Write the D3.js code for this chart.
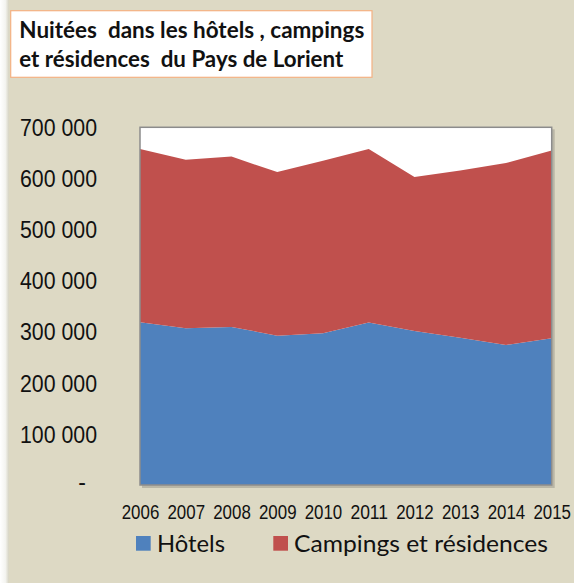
<!DOCTYPE html>
<html lang="fr">
<head>
<meta charset="UTF-8">
<title>Nuitées Pays de Lorient</title>
<script src="https://d3js.org/d3.v7.min.js"></script>
<style>
  body { margin: 0; background: #fff; }
  svg { display: block; }
  .ytick text { font-family: "Liberation Sans", Arial, sans-serif; font-size: 23px; fill: #111; }
  .xtick text { font-family: "Liberation Sans", Arial, sans-serif; font-size: 19.5px; fill: #111; }
  .legend text { font-family: Lato, "Open Sans", sans-serif; font-size: 24px; fill: #111; }
  .title text { font-family: Lato, "Open Sans", sans-serif; font-size: 22px; font-weight: bold; fill: #111; }
</style>
</head>
<body>
<div id="container"></div>
<script>
// data
const years = ["2006","2007","2008","2009","2010","2011","2012","2013","2014","2015"];
const hotels =   [318600, 306800, 309400, 292300, 297000, 317800, 301500, 288400, 274100, 287200];
const campings = [338700, 329600, 333400, 320000, 337400, 339500, 301000, 327000, 355800, 367400];
const yTicks = [0, 100000, 200000, 300000, 400000, 500000, 600000, 700000];
const seriesNames = ["Hôtels", "Campings et résidences"];
const colors = ["#4f81bd", "#c0504d"];
const titleLines = ["Nuitées  dans les hôtels , campings", "et résidences  du Pays de Lorient"];

const width = 574, height = 583;
const plot = { left: 140, right: 551.7, top: 127.3, bottom: 485 };

const svg = d3.select("#container").append("svg")
  .attr("width", width).attr("height", height);

// background with pale left edge
const defs = svg.append("defs");
const grad = defs.append("linearGradient").attr("id", "edge");
grad.append("stop").attr("offset", "0").attr("stop-color", "#ffffff");
grad.append("stop").attr("offset", "0.6").attr("stop-color", "#f4f4f0");
grad.append("stop").attr("offset", "1").attr("stop-color", "#d6d3c2");
svg.append("rect").attr("width", width).attr("height", height).attr("fill", "#ddd9c4");
svg.append("rect").attr("width", 9).attr("height", height).attr("fill", "url(#edge)");

const table = years.map((y, i) => ({ year: y, hotels: hotels[i], campings: campings[i] }));
const stacked = d3.stack().keys(["hotels", "campings"])(table);

const x = d3.scalePoint().domain(years).range([plot.left, plot.right]);
const y = d3.scaleLinear().domain([0, 700000]).range([plot.bottom, plot.top]);

// plot area shadow + background
svg.append("rect")
  .attr("x", plot.left + 2).attr("y", plot.top + 2)
  .attr("width", plot.right - plot.left + 1).attr("height", plot.bottom - plot.top + 1)
  .attr("fill", "#b9b6a6");
svg.append("rect")
  .attr("x", plot.left).attr("y", plot.top)
  .attr("width", plot.right - plot.left).attr("height", plot.bottom - plot.top)
  .attr("fill", "#fff");

const area = d3.area()
  .x(d => x(d.data.year))
  .y0(d => y(d[0]))
  .y1(d => y(d[1]));

svg.append("g").selectAll("path")
  .data(stacked)
  .enter().append("path")
  .attr("d", area)
  .attr("fill", (d, i) => colors[i]);

svg.append("rect")
  .attr("x", plot.left).attr("y", plot.top)
  .attr("width", plot.right - plot.left).attr("height", plot.bottom - plot.top)
  .attr("fill", "none").attr("stroke", "#8c8c8c").attr("stroke-width", 1.5);

// y axis
const fmt = v => v === 0 ? "-" : d3.format(",")(v).replace(/,/g, " ");
const yAxis = d3.axisLeft(y).tickValues(yTicks).tickFormat(fmt).tickSize(0).tickPadding(0);
const gy = svg.append("g").attr("class", "ytick")
  .attr("transform", `translate(97,0)`)
  .call(yAxis);
gy.select(".domain").remove();
gy.selectAll("text").attr("dy", "0.36em").attr("font-family", null).attr("font-size", null)
  .attr("textLength", d => d === 0 ? null : 77)
  .attr("lengthAdjust", "spacingAndGlyphs");
gy.selectAll(".tick").filter(d => d === 0).select("text").attr("dx", "-11px").attr("dy", "0.2em");

// x axis
const xAxis = d3.axisBottom(x).tickSize(0).tickPadding(0);
const gx = svg.append("g").attr("class", "xtick")
  .attr("transform", `translate(0,${plot.bottom})`)
  .call(xAxis);
gx.select(".domain").remove();
gx.selectAll("text").attr("y", 34).attr("dy", null).attr("font-family", null).attr("font-size", null)
  .attr("textLength", 37.6).attr("lengthAdjust", "spacingAndGlyphs");

// legend
const legendX = [136, 273.3];
const legendW = [68, 254];
const legend = svg.append("g").attr("class", "legend")
  .selectAll("g").data(seriesNames).enter().append("g")
  .attr("transform", (d, i) => `translate(${legendX[i]},536)`);
legend.append("rect").attr("width", 14.7).attr("height", 14.7).attr("fill", (d, i) => colors[i]);
legend.append("text").attr("x", (d, i) => i === 0 ? 21 : 20.7).attr("y", 15.8)
  .attr("textLength", (d, i) => legendW[i]).attr("lengthAdjust", "spacingAndGlyphs")
  .text(d => d);

// title box
const titleW = [345, 324];
const title = svg.append("g").attr("class", "title");
title.append("rect")
  .attr("x", 10.7).attr("y", 10.7).attr("width", 361.3).attr("height", 66.6)
  .attr("fill", "#fff").attr("stroke", "#f4b183").attr("stroke-width", 1.2);
title.selectAll("text").data(titleLines).enter().append("text")
  .attr("x", 19.3).attr("y", (d, i) => 38.3 + i * 28.4)
  .attr("xml:space", "preserve")
  .style("white-space", "pre")
  .attr("textLength", (d, i) => titleW[i]).attr("lengthAdjust", "spacingAndGlyphs")
  .text(d => d);
</script>
</body>
</html>
